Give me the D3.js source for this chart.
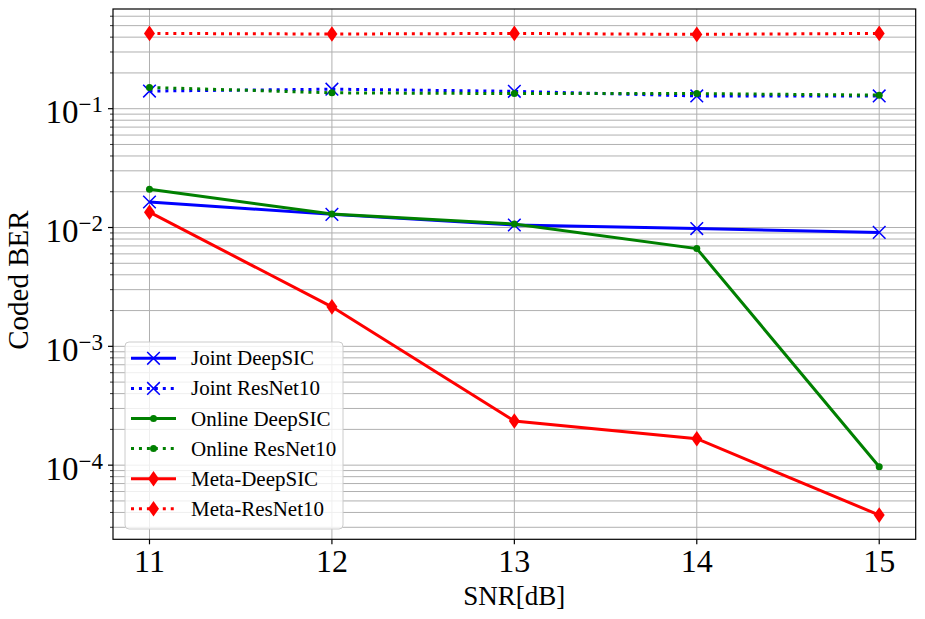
<!DOCTYPE html>
<html>
<head>
<meta charset="utf-8">
<script src="https://cdn.jsdelivr.net/npm/d3@7"></script>
<style>
  body { margin: 0; background: #fff; }
  text { font-family: "Liberation Serif", "DejaVu Serif", serif; fill: #000; }
</style>
</head>
<body>
<script>
// values
const snr = [11, 12, 13, 14, 15];
const jointDeepSIC = [0.0164, 0.0129, 0.0105, 0.0098, 0.0091];
const jointResNet10 = [0.1407, 0.146, 0.140, 0.128, 0.128];
const onlineDeepSIC = [0.0210, 0.0130, 0.0107, 0.00665, 0.000097];
const onlineResNet10 = [0.151, 0.136, 0.134, 0.134, 0.130];
const metaDeepSIC = [0.01346, 0.00215, 0.000235, 0.000167, 0.000038];
const metaResNet10 = [0.430, 0.425, 0.430, 0.422, 0.430];
const xTicks = [11, 12, 13, 14, 15];
const yMajor = [1e-4, 1e-3, 1e-2, 1e-1];
const yExp = ["\u22124", "\u22123", "\u22122", "\u22121"];

const series = [
  {name: "Joint DeepSIC", values: jointDeepSIC, color: "#0000ff", dash: null, marker: "x"},
  {name: "Joint ResNet10", values: jointResNet10, color: "#0000ff", dash: "3,4.95", marker: "x"},
  {name: "Online DeepSIC", values: onlineDeepSIC, color: "#008000", dash: null, marker: "dot"},
  {name: "Online ResNet10", values: onlineResNet10, color: "#008000", dash: "3,4.95", marker: "dot"},
  {name: "Meta-DeepSIC", values: metaDeepSIC, color: "#ff0000", dash: null, marker: "diamond"},
  {name: "Meta-ResNet10", values: metaResNet10, color: "#ff0000", dash: "3,4.95", marker: "diamond"}
];

const W = 925, H = 619;
const pLeft = 113, pRight = 915.7, pTop = 9, pBottom = 539.3;

const svg = d3.select("body").append("svg")
  .attr("width", W)
  .attr("height", H);

const x = d3.scaleLinear().domain([10.8, 15.2]).range([pLeft, pRight]);
const y = d3.scaleLog().domain([Math.pow(10, -4.624), Math.pow(10, -0.161)]).range([pBottom, pTop]);

// grid
const grid = svg.append("g");
grid.selectAll(".hy")
  .data(y.ticks())
  .enter().append("line")
  .attr("x1", pLeft).attr("x2", pRight)
  .attr("y1", d => y(d)).attr("y2", d => y(d))
  .attr("stroke", "#b0b0b0").attr("stroke-width", 1);
grid.selectAll(".vx")
  .data(xTicks)
  .enter().append("line")
  .attr("x1", d => x(d)).attr("x2", d => x(d))
  .attr("y1", pTop).attr("y2", pBottom)
  .attr("stroke", "#b0b0b0").attr("stroke-width", 1);

// series
const line = d3.line().x((d, i) => x(snr[i])).y(d => y(d));
const plot = svg.append("g");

function drawMarker(g, type, color) {
  if (type === "x") {
    const s = 6.3;
    g.append("path")
      .attr("d", `M${-s},${-s}L${s},${s}M${-s},${s}L${s},${-s}`)
      .attr("stroke", color).attr("stroke-width", 1.5).attr("fill", "none");
  } else if (type === "dot") {
    g.append("circle").attr("r", 3.5).attr("fill", color);
  } else {
    const w = 5.5, h = 7.8;
    g.append("path")
      .attr("d", `M0,${-h}L${w},0L0,${h}L${-w},0Z`)
      .attr("fill", color);
  }
}

series.forEach(s => {
  plot.append("path")
    .attr("d", line(s.values))
    .attr("fill", "none")
    .attr("stroke", s.color)
    .attr("stroke-width", 3)
    .attr("stroke-dasharray", s.dash);
  s.values.forEach((v, i) => {
    const g = plot.append("g").attr("transform", `translate(${x(snr[i])},${y(v)})`);
    drawMarker(g, s.marker, s.color);
  });
});

// spines
svg.append("rect")
  .attr("x", pLeft).attr("y", pTop)
  .attr("width", pRight - pLeft).attr("height", pBottom - pTop)
  .attr("fill", "none").attr("stroke", "#000").attr("stroke-width", 1.2);

// x axis
const xAxis = svg.append("g");
xAxis.selectAll("line")
  .data(xTicks)
  .enter().append("line")
  .attr("x1", d => x(d)).attr("x2", d => x(d))
  .attr("y1", pBottom).attr("y2", pBottom + 5)
  .attr("stroke", "#000").attr("stroke-width", 1.2);
xAxis.selectAll("text")
  .data(xTicks)
  .enter().append("text")
  .attr("x", d => x(d)).attr("y", 572)
  .attr("text-anchor", "middle")
  .attr("font-size", 32)
  .text(d => d);

// y axis
const yAxis = svg.append("g");
yAxis.selectAll(".minor")
  .data(y.ticks().filter(d => !yMajor.some(m => Math.abs(m - d) / m < 1e-6)))
  .enter().append("line")
  .attr("x1", pLeft - 3).attr("x2", pLeft)
  .attr("y1", d => y(d)).attr("y2", d => y(d))
  .attr("stroke", "#000").attr("stroke-width", 0.8);
yAxis.selectAll(".major")
  .data(yMajor)
  .enter().append("line")
  .attr("x1", pLeft - 5).attr("x2", pLeft)
  .attr("y1", d => y(d)).attr("y2", d => y(d))
  .attr("stroke", "#000").attr("stroke-width", 1.2);
const yl = yAxis.selectAll(".lab")
  .data(yMajor)
  .enter().append("text")
  .attr("x", 103).attr("y", d => y(d) + 14.5)
  .attr("text-anchor", "end")
  .attr("font-size", 33);
yl.append("tspan").text("10");
yl.append("tspan")
  .attr("dy", -11)
  .attr("font-size", 23)
  .text((d, i) => yExp[i]);

// axis labels
svg.append("text")
  .attr("x", (pLeft + pRight) / 2).attr("y", 605)
  .attr("text-anchor", "middle")
  .attr("font-size", 27)
  .text("SNR[dB]");
svg.append("text")
  .attr("transform", `translate(28,${(pTop + pBottom) / 2 + 6}) rotate(-90)`)
  .attr("text-anchor", "middle")
  .attr("font-size", 29)
  .text("Coded BER");

// legend
const leg = svg.append("g");
leg.append("rect")
  .attr("x", 125).attr("y", 342)
  .attr("width", 218).attr("height", 187)
  .attr("rx", 4)
  .attr("fill", "#fff").attr("fill-opacity", 0.8)
  .attr("stroke", "#cccccc").attr("stroke-width", 1);
series.forEach((s, i) => {
  const ry = 358.3 + i * 30.1;
  leg.append("line")
    .attr("x1", 131).attr("x2", 176)
    .attr("y1", ry).attr("y2", ry)
    .attr("stroke", s.color).attr("stroke-width", 3)
    .attr("stroke-dasharray", s.dash);
  const g = leg.append("g").attr("transform", `translate(153.5,${ry})`);
  drawMarker(g, s.marker, s.color);
  leg.append("text")
    .attr("x", 191).attr("y", ry + 7)
    .attr("font-size", 21)
    .text(s.name);
});
</script>
</body>
</html>
